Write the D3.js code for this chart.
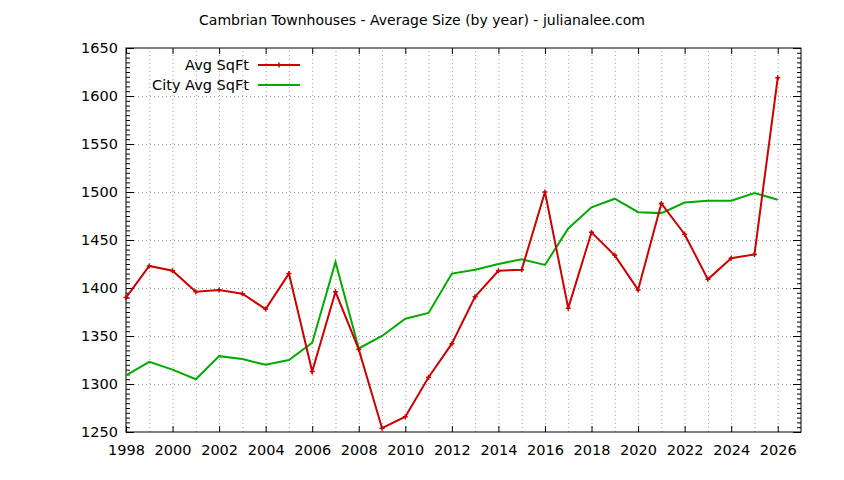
<!DOCTYPE html>
<html>
<head>
<meta charset="utf-8">
<script src="https://cdn.jsdelivr.net/npm/d3@7"></script>
<style>
  body { margin: 0; background: #fff; }
  text { font-family: "DejaVu Sans", sans-serif; fill: #000; }
  .grid line { stroke: #a0a0a0; stroke-width: 1; stroke-dasharray: 1,3; }
  .grid path { display: none; }
  .axis path { display: none; }
  .axis line { stroke: #000; stroke-width: 1; }
</style>
</head>
<body>
<div id="chart"></div>
<script>
// data
var years = d3.range(1998, 2027);
var avgSqft = [1390, 1423, 1418, 1396, 1398, 1394, 1378, 1415, 1313, 1396,
  1336, 1254, 1266, 1307, 1342, 1391, 1418, 1419, 1500, 1379,
  1458, 1434, 1398, 1488, 1456, 1409, 1431, 1435, 1619];
var cityAvgSqft = [1309, 1323, 1315, 1305, 1329, 1326, 1320, 1325, 1343, 1427,
  1337, 1350, 1368, 1374, 1415, 1419, 1425, 1430, 1424, 1462,
  1484, 1493, 1479, 1478, 1489, 1491, 1491, 1499, 1492];
var xTickLabels = d3.range(1998, 2027, 2);
var yTickLabels = d3.range(1250, 1651, 50);

var svgWidth = 844;
var svgHeight = 480;
var margin = { top: 48, right: 43, bottom: 48, left: 126 };
var width = svgWidth - margin.left - margin.right;
var height = svgHeight - margin.top - margin.bottom;

var svg = d3.select("#chart")
  .append("svg")
  .attr("width", svgWidth)
  .attr("height", svgHeight);

var chartGroup = svg.append("g")
  .attr("transform", `translate(${margin.left}, ${margin.top})`);

var x = d3.scaleLinear().domain([1998, 2027]).range([0, width]);
var y = d3.scaleLinear().domain([1250, 1650]).range([height, 0]);

// dotted grid
chartGroup.append("g")
  .attr("class", "grid")
  .attr("transform", `translate(0, ${height})`)
  .call(d3.axisBottom(x).tickValues(years.slice(1)).tickSize(-height).tickFormat(""));
chartGroup.append("g")
  .attr("class", "grid")
  .call(d3.axisLeft(y).tickValues(yTickLabels.slice(1, -1)).tickSize(-width).tickFormat(""));

// minor y ticks every 5
var yMinor = d3.range(1250, 1651, 5).filter(d => d % 50 !== 0);
chartGroup.append("g").attr("class", "axis")
  .call(d3.axisLeft(y).tickValues(yMinor).tickSize(-4).tickFormat(""));
chartGroup.append("g").attr("class", "axis")
  .attr("transform", `translate(${width}, 0)`)
  .call(d3.axisRight(y).tickValues(yMinor).tickSize(-4).tickFormat(""));

// major ticks on all four sides
var leftAxis = chartGroup.append("g").attr("class", "axis")
  .call(d3.axisLeft(y).tickValues(yTickLabels).tickSizeInner(-8).tickPadding(8).tickFormat(d3.format("d")));
leftAxis.selectAll("text").style("font-size", "14.5px");

chartGroup.append("g").attr("class", "axis")
  .attr("transform", `translate(${width}, 0)`)
  .call(d3.axisRight(y).tickValues(yTickLabels).tickSize(-8).tickFormat(""));

var bottomAxis = chartGroup.append("g").attr("class", "axis")
  .attr("transform", `translate(0, ${height})`)
  .call(d3.axisBottom(x).tickValues(xTickLabels).tickSizeInner(-6).tickPadding(13).tickFormat(d3.format("d")));
bottomAxis.selectAll("text").style("font-size", "14.5px");

chartGroup.append("g").attr("class", "axis")
  .call(d3.axisTop(x).tickValues(xTickLabels).tickSize(-6).tickFormat(""));

// border
chartGroup.append("rect")
  .attr("width", width)
  .attr("height", height)
  .attr("fill", "none")
  .attr("stroke", "#000")
  .attr("stroke-width", 1);

var line = d3.line()
  .x((d, i) => x(years[i]))
  .y(d => y(d));

chartGroup.append("path")
  .datum(cityAvgSqft)
  .attr("d", line)
  .attr("fill", "none")
  .attr("stroke", "#00aa00")
  .attr("stroke-width", 2);

chartGroup.append("path")
  .datum(avgSqft)
  .attr("d", line)
  .attr("fill", "none")
  .attr("stroke", "#cc0000")
  .attr("stroke-width", 2);

// plus markers on the red series
chartGroup.selectAll(".pt")
  .data(avgSqft)
  .enter()
  .append("path")
  .attr("class", "pt")
  .attr("d", (d, i) => {
    var px = x(years[i]), py = y(d);
    return `M${px - 2.5},${py}H${px + 2.5}M${px},${py - 2.5}V${py + 2.5}`;
  })
  .attr("stroke", "#cc0000")
  .attr("stroke-width", 1.5);

// legend
var legend = svg.append("g");
var legendItems = [
  { label: "Avg SqFt", color: "#cc0000", marker: true },
  { label: "City Avg SqFt", color: "#00aa00", marker: false }
];
legendItems.forEach(function(item, i) {
  var ly = 65 + i * 20;
  legend.append("text")
    .attr("x", 249)
    .attr("y", ly)
    .attr("dy", "0.35em")
    .attr("text-anchor", "end")
    .style("font-size", "14.5px")
    .text(item.label);
  legend.append("line")
    .attr("x1", 258).attr("x2", 300)
    .attr("y1", ly).attr("y2", ly)
    .attr("stroke", item.color)
    .attr("stroke-width", 2);
  if (item.marker) {
    legend.append("path")
      .attr("d", `M276.5,${ly}H281.5M279,${ly - 2.5}V${ly + 2.5}`)
      .attr("stroke", item.color)
      .attr("stroke-width", 1.5);
  }
});

// title
svg.append("text")
  .attr("x", 422)
  .attr("y", 20)
  .attr("dy", "0.35em")
  .attr("text-anchor", "middle")
  .style("font-size", "14px")
  .text("Cambrian Townhouses - Average Size (by year) - julianalee.com");
</script>
</body>
</html>
